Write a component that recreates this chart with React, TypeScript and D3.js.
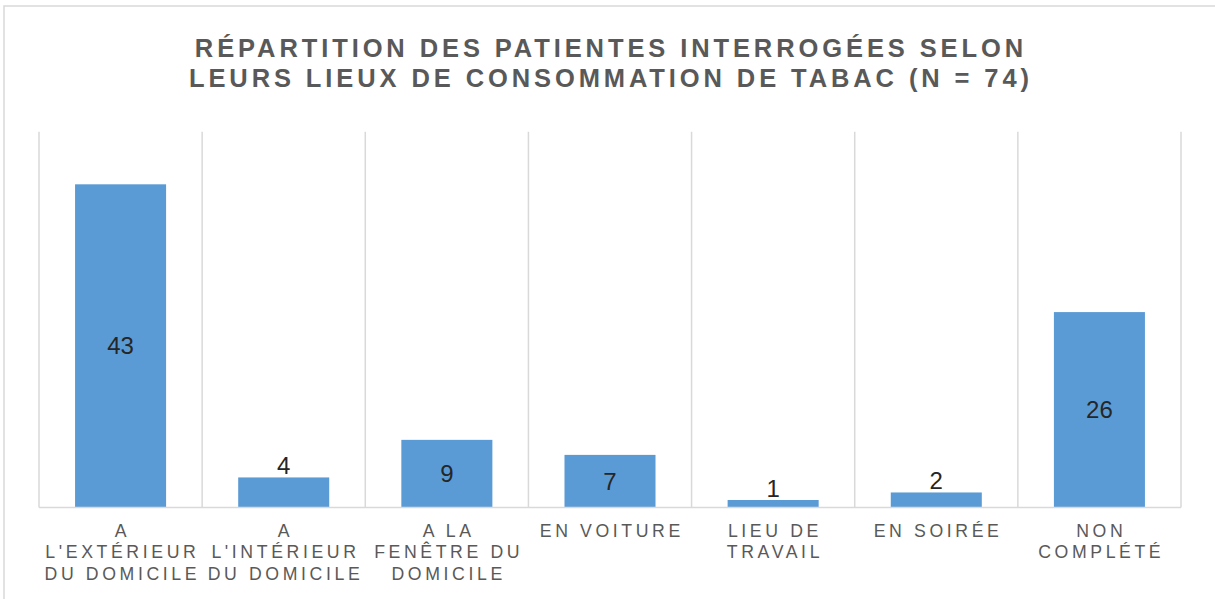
import React from "react";
import * as d3 from "d3";

const titleLines = [
  "RÉPARTITION DES PATIENTES INTERROGÉES SELON",
  "LEURS LIEUX DE CONSOMMATION DE TABAC (N = 74)",
];
const categories = [
  "A L'EXTÉRIEUR DU DOMICILE",
  "A L'INTÉRIEUR DU DOMICILE",
  "A LA FENÊTRE DU DOMICILE",
  "EN VOITURE",
  "LIEU DE TRAVAIL",
  "EN SOIRÉE",
  "NON COMPLÉTÉ",
];
const values = [43, 4, 9, 7, 1, 2, 26];
const yMax = 50;

const W = 1215;
const H = 599;
const FONT = "'Liberation Sans', Arial, sans-serif";
const catFontSize = 17.7;
const catSpacing = 3.6;
const titleSpacing = 3.9;
const titleSize = 25.5;

let ctx: CanvasRenderingContext2D | null = null;
function measure(text: string, size: number, spacing: number) {
  if (!ctx) ctx = document.createElement("canvas").getContext("2d");
  if (!ctx) return text.length * size * 0.6;
  ctx.font = `${size}px 'Liberation Sans', Arial`;
  return ctx.measureText(text).width + spacing * Math.max(0, text.length - 1);
}

function wrap(text: string, maxW: number) {
  const words = text.split(" ");
  const lines: string[] = [];
  let cur = "";
  for (const w of words) {
    const test = cur ? cur + " " + w : w;
    if (cur && measure(test, catFontSize, catSpacing) > maxW) {
      lines.push(cur);
      cur = w;
    } else cur = test;
  }
  if (cur) lines.push(cur);
  return lines;
}

export default function App() {
  const x = d3
    .scaleBand<string>()
    .domain(categories)
    .range([39, 1181])
    .paddingInner(0.442)
    .paddingOuter(0.221);
  const y = d3.scaleLinear().domain([0, yMax]).range([507.5, 131.7]);
  const step = x.step();
  const x0 = x.range()[0];
  const boundaries = d3.range(categories.length + 1).map((i) => x0 + i * step);

  return (
    <div style={{ position: "absolute", left: 0, top: 0 }}>
      <svg width={W} height={H} style={{ display: "block", background: "#fff" }}>
        <rect x={4} y={6} width={1240} height={640} fill="#fff" stroke="#D9D9D9" strokeWidth={1.5} />
        {titleLines.map((t, i) => (
          <text
            key={i}
            x={609}
            dx={titleSpacing / 2}
            y={56.7 + i * 30}
            textAnchor="middle"
            fontFamily={FONT}
            fontWeight="bold"
            fontSize={titleSize}
            fill="#595959"
            style={{ letterSpacing: `${titleSpacing}px` }}
          >
            {t}
          </text>
        ))}
        {boundaries.map((b, i) => (
          <line key={i} x1={b} x2={b} y1={y(yMax)} y2={y(0)} stroke="#D9D9D9" strokeWidth={1.5} />
        ))}
        {categories.map((c, i) => (
          <rect
            key={c}
            x={x(c)}
            y={y(values[i])}
            width={x.bandwidth()}
            height={y(0) - y(values[i])}
            fill="#5B9BD5"
          />
        ))}
        <line x1={boundaries[0]} x2={boundaries[boundaries.length - 1]} y1={y(0)} y2={y(0)} stroke="#D9D9D9" strokeWidth={1.5} />
        {categories.map((c, i) => {
          const v = values[i];
          const h = y(0) - y(v);
          const cx = (x(c) ?? 0) + x.bandwidth() / 2;
          const inside = h > 40;
          const ly = inside ? (y(v) + y(0)) / 2 + 8.5 : y(v) - 3;
          return (
            <text
              key={c}
              x={cx}
              y={ly}
              textAnchor="middle"
              fontFamily={FONT}
              fontSize={24}
              fill="#262626"
            >
              {v}
            </text>
          );
        })}
        {categories.map((c) => {
          const cx = (x(c) ?? 0) + x.bandwidth() / 2;
          const lines = wrap(c, step - 2);
          return (
            <text
              key={c}
              x={cx}
              y={537}
              textAnchor="middle"
              fontFamily={FONT}
              fontSize={catFontSize}
              fill="#595959"
              style={{ letterSpacing: `${catSpacing}px` }}
            >
              {lines.map((l, j) => (
                <tspan key={j} x={cx} dx={catSpacing / 2} y={537 + j * 21.3}>
                  {l}
                </tspan>
              ))}
            </text>
          );
        })}
      </svg>
    </div>
  );
}
